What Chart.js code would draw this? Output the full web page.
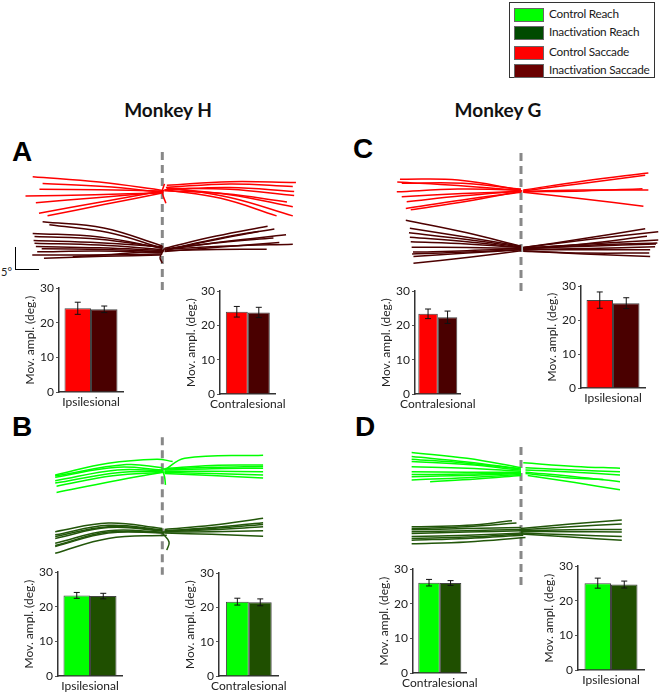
<!DOCTYPE html>
<html>
<head>
<meta charset="utf-8">
<script src="https://cdn.jsdelivr.net/npm/chart.js@4.4.1/dist/chart.umd.min.js"></script>
<style>
    body { margin: 0; width: 660px; height: 692px; position: relative; background: #fff; overflow: hidden; font-family: Lato, 'Open Sans', sans-serif; color: #222; }
    canvas { position: absolute; }
    .letter { position: absolute; font-family: 'Liberation Sans', Arial, sans-serif; font-weight: bold; font-size: 28px; line-height: 28px; color: #000; }
    .title { position: absolute; width: 200px; text-align: center; font-weight: bold; font-size: 19px; line-height: 24px; color: #111; }
    .legend { position: absolute; left: 509px; top: 2px; width: 144px; height: 74px; border: 1.5px solid #333; background: #fff; }
    .legend .row { position: absolute; left: 4px; height: 14px; font-size: 11.8px; line-height: 14px; letter-spacing: -0.25px; white-space: nowrap; color: #1a1a1a; }
    .legend .sw { display: inline-block; width: 28px; height: 12px; border: 1px solid #666; vertical-align: middle; margin-right: 5px; }
    .scalebar { position: absolute; left: 15px; top: 247px; width: 23px; height: 22px; border-left: 1.5px solid #000; border-bottom: 1.5px solid #000; }
    .scaletext { position: absolute; left: 1px; top: 265px; font-size: 11px; }
</style>
</head>
<body>

<div class="legend">
    <div class="row" style="top:4px"><span class="sw" style="background:#00ff00"></span>Control Reach</div>
    <div class="row" style="top:22px"><span class="sw" style="background:#004a00"></span>Inactivation Reach</div>
    <div class="row" style="top:42px"><span class="sw" style="background:#ff0000"></span>Control Saccade</div>
    <div class="row" style="top:60px"><span class="sw" style="background:#6a0000"></span>Inactivation Saccade</div>
</div>

<div class="title" style="left:68px; top:98px">Monkey H</div>
<div class="title" style="left:398px; top:98px">Monkey G</div>

<div class="letter" style="left:12px; top:138px">A</div>
<div class="letter" style="left:353px; top:135px">C</div>
<div class="letter" style="left:12px; top:413px">B</div>
<div class="letter" style="left:355px; top:413px">D</div>

<div class="scalebar"></div>
<div class="scaletext">5°</div>

<script>
// ---- bar chart values (deg.), [control, inactivation] ----
const seriesNames = ['Control', 'Inactivation'];

const hSaccIpsi = [24.2, 23.9];
const hSaccIpsiErr = [1.75, 0.95];
const hSaccContra = [24.0, 23.8];
const hSaccContraErr = [1.55, 1.5];
const gSaccContra = [23.4, 22.4];
const gSaccContraErr = [1.4, 1.8];
const gSaccIpsi = [25.9, 25.0];
const gSaccIpsiErr = [2.4, 1.6];

const hReachIpsi = [23.3, 23.1];
const hReachIpsiErr = [0.85, 0.8];
const hReachContra = [21.7, 21.5];
const hReachContraErr = [1.0, 1.0];
const gReachContra = [26.1, 26.0];
const gReachContraErr = [0.95, 0.7];
const gReachIpsi = [25.1, 24.7];
const gReachIpsiErr = [1.45, 1.0];

// ---- movement trajectories, [x, y] in deg. (fixation at x = 0) ----
const hSaccCtrl = [
    [[0.5, 0.3], [-14, 2.2], [-28.8, 3.4]],
    [[0, 0], [-13, 1.2], [-26.6, 1.9]],
    [[-0.5, 0.2], [-14, 0.5], [-27.3, 0.6]],
    [[0, -0.2], [-15, -0.6], [-30.4, -0.9]],
    [[0.3, 0], [-14, -1.2], [-28.1, -2.4]],
    [[0, 0.2], [-13, -2.1], [-27.4, -4.7]],
    [[-0.3, -0.3], [-13, -2.8], [-25.5, -5.3]],
    [[1, 1.5], [15, 2.3], [29.7, 2.1]],
    [[0.8, 1], [15, 1.8], [29, 1.2]],
    [[0.5, 0.5], [15, 1], [29.3, 0.1]],
    [[1, 0.8], [15, 0.6], [29.3, -0.8]],
    [[0.5, 0.3], [14, -0.4], [27.7, -2.2]],
    [[1, 0.8], [15, -0.6], [29, -3.3]],
    [[0.5, 0.5], [13, -1.4], [25.4, -5.3]],
    [[1, 1], [15, -1.2], [29, -5.3]],
    [[0.5, 1.8], [0, 0], [0.8, -2.5]]
];
const hSaccInact = [
    [[0, -12], [-13, -8], [-26.6, -6.6]],
    [[0, -12.5], [-12, -9], [-25.1, -7.3]],
    [[-0.5, -12.3], [-14, -10.5], [-28.4, -9.9]],
    [[0, -12.5], [-14, -10], [-28.8, -9.2]],
    [[0, -12.8], [-14, -11.8], [-28.4, -11.4]],
    [[0.3, -13], [-14, -12.4], [-28.1, -12.1]],
    [[0.3, -13.2], [-13, -12.8], [-26.8, -12.6]],
    [[0, -13.5], [-14, -13.1], [-27.8, -13.3]],
    [[0, -13.8], [-14, -14], [-28.9, -14]],
    [[-0.5, -14], [-13, -14.3], [-26.3, -14.7]],
    [[0, -13], [-10, -13.8], [-19.9, -14.4]],
    [[0.2, -12.2], [-14, -11.3], [-28.6, -10.8]],
    [[0.5, -12.5], [12, -9.8], [23.4, -7.6]],
    [[1, -12.8], [13, -10.2], [24.9, -8.2]],
    [[0.5, -13], [11, -10.8], [21.4, -8.8]],
    [[0.5, -12.8], [14, -11], [27.5, -9.5]],
    [[1, -12.6], [13, -11.2], [24.7, -10.2]],
    [[0.5, -13.2], [13, -12.2], [26, -11.2]],
    [[0.5, -12.7], [15, -12], [29, -11.6]],
    [[1, -13], [12, -12.8], [23.2, -12.7]],
    [[0.5, -12.5], [-0.5, -14.5], [0, -15.8]]
];
const gSaccCtrl = [
    [[0, 0], [-14, 2.2], [-26.9, 2.4]],
    [[0, 0.2], [-13, 1.5], [-26.5, 1.5]],
    [[0.3, -0.2], [-14, 1], [-27.5, 1.8]],
    [[0, 0], [-14, 0.2], [-27.6, -0.4]],
    [[0, -0.3], [-13, -0.8], [-26.5, -1.5]],
    [[0.2, -0.2], [-13, -1.3], [-25.4, -2.6]],
    [[0, -0.5], [-13, -2.2], [-25.6, -4.1]],
    [[0, -0.3], [-12, -2.5], [-24.5, -4.4]],
    [[0.5, 0], [14, 2], [28.3, 3.8]],
    [[0.5, -0.2], [14, 1.5], [27.6, 3.3]],
    [[0.5, -0.3], [14, 0], [28.3, 0]],
    [[0.5, -0.4], [14, -0.2], [27, 0.3]],
    [[0.5, -0.5], [14, -2], [27.2, -3.6]]
];
const gSaccInact = [
    [[0, -12.5], [-12, -9.5], [-25.6, -6.7]],
    [[0, -12.5], [-12, -10.5], [-24.7, -8.5]],
    [[0, -12.7], [-12, -11], [-24.9, -9.5]],
    [[0, -12.8], [-12, -11.5], [-24.7, -10.5]],
    [[0, -13], [-12, -12.8], [-24.3, -12.7]],
    [[0, -13.2], [-12, -13.8], [-24.2, -14.2]],
    [[0, -13.3], [-12, -14], [-23.9, -14.8]],
    [[0, -13.5], [-12, -15], [-23.9, -16.3]],
    [[0, -13], [-12, -13.5], [-24, -13.8]],
    [[0, -12.8], [-12, -12], [-24.5, -11.5]],
    [[0.5, -12.8], [14, -10.8], [27.6, -8.6]],
    [[0.5, -12.8], [15, -11], [30.5, -9.3]],
    [[0.5, -12.9], [14, -12], [28, -10.3]],
    [[0.5, -13], [15, -12], [30.5, -11.1]],
    [[0.5, -13.1], [15, -12.3], [30.3, -11.8]],
    [[0.5, -13.2], [15, -13], [29.8, -12.6]],
    [[0.5, -13.5], [14, -14.2], [28.7, -14.8]],
    [[0.5, -13.3], [14, -13.3], [28.7, -13.3]],
    [[0.5, -13], [15, -12.5], [30, -12]],
    [[0.5, -13.6], [14, -14], [28.5, -14]]
];
const hReachCtrl = [
    [[2.3, 1.9], [-1.2, 2.4], [-12, 1.5], [-23.8, -1.1]],
    [[0, 0], [-10, 0.6], [-23.8, -1.6]],
    [[0, -0.2], [-10, 0], [-23.8, -2.4]],
    [[0, -0.3], [-10, -0.6], [-23.8, -2.9]],
    [[0.5, -0.5], [-11, -1.3], [-23.5, -3.6]],
    [[0, -0.5], [-11, -2.5], [-23.5, -5.0]],
    [[0, 0.5], [-8, 1.2], [-23.8, -1.3]],
    [[0.5, 0], [5, 2.6], [22.4, 3.3]],
    [[0.5, 0.3], [11, 1], [22.4, 1.1]],
    [[0, 0.2], [11, 0.6], [22.4, 0.8]],
    [[0.5, 0], [11, 0.3], [22.4, 0.4]],
    [[0.5, -0.3], [11, -0.3], [22.4, -0.4]],
    [[0.5, -0.5], [11, -0.8], [22.4, -1.1]],
    [[0.5, -0.8], [11, -1.2], [22.4, -1.8]],
    [[0, 0], [0.5, -1.5], [0.7, -3.3]]
];
const hReachInact = [
    [[0, -13], [-12, -11.8], [-23.8, -13.7]],
    [[0, -13.3], [-12, -12.3], [-23.8, -14.4]],
    [[0, -13.4], [-12, -12.6], [-23.8, -14.8]],
    [[0, -13.5], [-12, -12.8], [-23.8, -15.2]],
    [[0.5, -13.8], [-12, -13.5], [-23.8, -16.3]],
    [[0.5, -13.9], [-12, -13.8], [-23.8, -16.8]],
    [[0.5, -14], [-12, -14], [-23.8, -17]],
    [[1, -14.5], [-12, -15.2], [-23.8, -18.5]],
    [[0.5, -13.2], [11, -12.3], [22.4, -10.7]],
    [[0.5, -13.5], [11, -12.8], [22.4, -11.7]],
    [[0.5, -13.6], [11, -13], [22.4, -12.1]],
    [[0.5, -13.7], [11, -13.3], [22.4, -12.6]],
    [[0.5, -13.8], [11, -13.7], [22.4, -13.5]],
    [[0.5, -14], [11, -14.3], [22.4, -14.7]],
    [[0, -14], [1.5, -16], [1, -17.8]]
];
const gReachCtrl = [
    [[0, 0.5], [-12, 2.6], [-24.3, 3.9]],
    [[-0.5, 0.3], [-12, 1.8], [-24.3, 3.0]],
    [[0, 0.2], [-12, 1.5], [-24.3, 2.4]],
    [[0, 0], [-12, 1.2], [-24.3, 1.9]],
    [[0, -0.3], [-12, 0.4], [-24.3, 0.7]],
    [[0, -0.5], [-12, -0.5], [-24.3, -0.4]],
    [[0, -0.6], [-12, -0.9], [-24.3, -1]],
    [[0, -0.8], [-12, -1.2], [-24.3, -1.5]],
    [[0, -1], [-12, -1.7], [-24.3, -2.2]],
    [[0, -1.2], [-10, -2], [-20.2, -2.6]],
    [[0.5, 1.6], [12, 0.8], [22, 0.4]],
    [[1, 0.5], [12, 0], [22, -0.4]],
    [[1, 0], [12, -0.5], [22, -1.1]],
    [[1, -0.5], [12, -1.5], [22, -2.6]],
    [[1.5, -1.2], [12, -2.8], [22, -4.4]],
    [[1, -0.8], [11, -1.8], [18.3, -2.1]]
];
const gReachInact = [
    [[-2, -11.3], [-12, -12.3], [-24.3, -12.6]],
    [[0, -12.8], [-12, -13], [-24.3, -13.3]],
    [[0, -13.2], [-12, -13.5], [-24.3, -13.7]],
    [[0, -13.5], [-12, -13.8], [-24.3, -14.1]],
    [[0.5, -14], [-12, -14.5], [-24.3, -14.8]],
    [[0.5, -14.2], [-12, -14.9], [-24.3, -15.2]],
    [[0.5, -14.5], [-12, -15.2], [-24.3, -15.6]],
    [[1, -15], [-12, -16], [-24.3, -16.4]],
    [[-1, -11.8], [-12, -12.6], [-24.3, -13.0]],
    [[0, -13], [11, -12], [22.4, -11.1]],
    [[0, -13.3], [11, -12.6], [22.4, -12.0]],
    [[0, -13.5], [11, -13.3], [22.4, -13.2]],
    [[0, -13.7], [11, -13.7], [22.4, -13.8]],
    [[0, -14], [11, -14.4], [22.4, -14.8]],
    [[0, -14.2], [11, -14.9], [22.4, -15.6]]
];

const ctrlSaccColor = '#ff0000';
const inactSaccColor = '#4d0000';
const ctrlReachColor = '#00ff00';
const inactReachColor = '#22560a';
const inactSaccBar = '#4a0000';
const inactReachBar = '#1f4f00';

const pxPerDeg = 4.5;

// error bar plugin, whiskers from the y scale
const errorBars = {
    id: 'errorBars',
    afterDatasetsDraw(chart) {
        const ctx = chart.ctx;
        const y = chart.scales.y;
        chart.data.datasets.forEach((ds, i) => {
            chart.getDatasetMeta(i).data.forEach((bar, j) => {
                const top = y.getPixelForValue(ds.data[j] + ds.errors[j]);
                const bot = y.getPixelForValue(ds.data[j] - ds.errors[j]);
                ctx.save();
                ctx.strokeStyle = '#111';
                ctx.lineWidth = 1;
                ctx.beginPath();
                ctx.moveTo(bar.x, top); ctx.lineTo(bar.x, bot);
                ctx.moveTo(bar.x - 3, top); ctx.lineTo(bar.x + 3, top);
                ctx.moveTo(bar.x - 3, bot); ctx.lineTo(bar.x + 3, bot);
                ctx.stroke();
                ctx.restore();
            });
        });
    }
};

function addCanvas(left, top, w, h) {
    const c = document.createElement('canvas');
    c.width = w; c.height = h;
    c.style.left = left + 'px';
    c.style.top = top + 'px';
    c.style.width = w + 'px';
    c.style.height = h + 'px';
    document.body.appendChild(c);
    return c;
}

function makeTraj(p) {
    const c = addCanvas(p.left, p.top, p.width, p.height);
    const datasets = [];
    p.bundles.forEach(b => {
        b.trajs.forEach(t => {
            datasets.push({ data: t, borderColor: b.color, borderWidth: 1.5, pointRadius: 0, tension: 0.4, showLine: true, fill: false });
        });
    });
    // dashed fixation line at x = 0, drawn underneath
    datasets.push({ data: [[0, p.dash[0]], [0, p.dash[1]]], borderColor: '#888', borderWidth: 3, borderDash: [8, 5], pointRadius: 0, showLine: true });

    new Chart(c, {
        type: 'scatter',
        data: { datasets: datasets },
        options: {
            responsive: false,
            animation: false,
            events: [],
            layout: { padding: 0 },
            plugins: { legend: { display: false }, tooltip: { enabled: false } },
            scales: {
                x: { type: 'linear', display: false, min: -(p.ox - p.left) / pxPerDeg, max: (p.left + p.width - p.ox) / pxPerDeg },
                y: { type: 'linear', display: false, min: -(p.top + p.height - p.oy) / pxPerDeg, max: (p.oy - p.top) / pxPerDeg }
            }
        }
    });
}

function makeBar(b) {
    const yw = 36, xh = 22, padTop = 8, padRight = 3;
    const c = addCanvas(b.axis - yw, b.top - padTop, yw + b.w + padRight, padTop + (b.bottom - b.top) + xh);
    const cp = 53 / b.w;
    new Chart(c, {
        type: 'bar',
        data: {
            labels: [b.label],
            datasets: [
                { label: seriesNames[0], data: [b.vals[0]], errors: [b.errs[0]], backgroundColor: b.colors[0], borderColor: '#444', borderWidth: 1, categoryPercentage: cp, barPercentage: 1 },
                { label: seriesNames[1], data: [b.vals[1]], errors: [b.errs[1]], backgroundColor: b.colors[1], borderColor: '#444', borderWidth: 1, categoryPercentage: cp, barPercentage: 1 }
            ]
        },
        options: {
            responsive: false,
            animation: false,
            events: [],
            layout: { padding: { top: padTop, right: padRight, left: 0, bottom: 0 } },
            plugins: { legend: { display: false }, tooltip: { enabled: false } },
            scales: {
                x: {
                    grid: { display: true, drawOnChartArea: false, drawTicks: false },
                    border: { display: true, color: '#333', width: 1.5 },
                    ticks: { color: '#222', font: { family: 'Lato', size: 12 }, padding: 3 },
                    afterFit(s) { s.height = xh; }
                },
                y: {
                    min: 0, max: 30,
                    ticks: { stepSize: 5, color: '#222', font: { family: 'Lato', size: 12 }, padding: 2 },
                    grid: { display: true, drawOnChartArea: false, tickLength: 3, color: '#555' },
                    border: { display: true, color: '#333', width: 1.5 },
                    title: { display: true, text: 'Mov. ampl. (deg.)', color: '#222', font: { family: 'Lato', size: 12 }, padding: 0 },
                    afterFit(s) { s.width = yw; }
                }
            }
        },
        plugins: [errorBars]
    });
}

// trajectory panels
[
    { left: 0, top: 140, width: 330, height: 160, ox: 162.3, oy: 192, dash: [8.9, -21.8],
      bundles: [{ trajs: hSaccCtrl, color: ctrlSaccColor }, { trajs: hSaccInact, color: inactSaccColor }] },
    { left: 330, top: 140, width: 330, height: 160, ox: 521, oy: 190, dash: [8.2, -22.7],
      bundles: [{ trajs: gSaccCtrl, color: ctrlSaccColor }, { trajs: gSaccInact, color: inactSaccColor }] },
    { left: 0, top: 425, width: 330, height: 160, ox: 162.3, oy: 470, dash: [7.3, -23.3],
      bundles: [{ trajs: hReachCtrl, color: ctrlReachColor }, { trajs: hReachInact, color: inactReachColor }] },
    { left: 330, top: 430, width: 330, height: 165, ox: 521, oy: 470, dash: [5.1, -26],
      bundles: [{ trajs: gReachCtrl, color: ctrlReachColor }, { trajs: gReachInact, color: inactReachColor }] }
].forEach(makeTraj);

// bar panels
const saccCols = [ctrlSaccColor, inactSaccBar];
const reachCols = [ctrlReachColor, inactReachBar];
[
    { axis: 59, top: 287, bottom: 392, w: 64, label: 'Ipsilesional', vals: hSaccIpsi, errs: hSaccIpsiErr, colors: saccCols },
    { axis: 220, top: 290, bottom: 394, w: 67, label: 'Contralesional', vals: hSaccContra, errs: hSaccContraErr, colors: saccCols },
    { axis: 415, top: 290, bottom: 394, w: 62, label: 'Contralesional', vals: gSaccContra, errs: gSaccContraErr, colors: saccCols },
    { axis: 581, top: 285, bottom: 388, w: 64, label: 'Ipsilesional', vals: gSaccIpsi, errs: gSaccIpsiErr, colors: saccCols },
    { axis: 58, top: 571, bottom: 676, w: 64, label: 'Ipsilesional', vals: hReachIpsi, errs: hReachIpsiErr, colors: reachCols },
    { axis: 219, top: 572, bottom: 676, w: 69, label: 'Contralesional', vals: hReachContra, errs: hReachContraErr, colors: reachCols },
    { axis: 413, top: 568, bottom: 673, w: 66, label: 'Contralesional', vals: gReachContra, errs: gReachContraErr, colors: reachCols },
    { axis: 578, top: 565, bottom: 670, w: 66, label: 'Ipsilesional', vals: gReachIpsi, errs: gReachIpsiErr, colors: reachCols }
].forEach(makeBar);
</script>
</body>
</html>
